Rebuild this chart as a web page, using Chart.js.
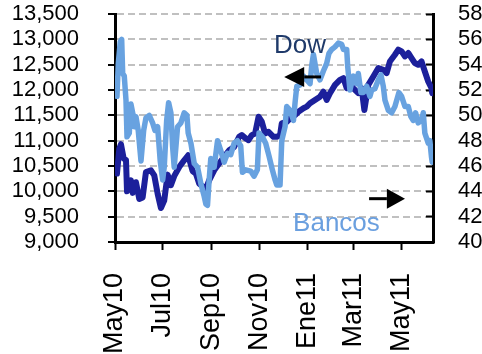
<!DOCTYPE html>
<html><head><meta charset="utf-8">
<script src="https://cdn.jsdelivr.net/npm/chart.js@4/dist/chart.umd.min.js"></script>
<style>html,body{margin:0;padding:0;background:#fff;overflow:hidden}</style>
</head><body>
<canvas id="c" width="482" height="354"></canvas>
<script>
// x axis: days since 1 May 2010
const xTickDays = [0, 61, 123, 184, 245, 304, 365];
const xTickLabels = ['May10', 'Jul10', 'Sep10', 'Nov10', 'Ene11', 'Mar11', 'May11'];

const dowDays = [2.5,5.5,7.6,11,14,15.3,20.3,22.5,26.7,30.9,35.2,39.4,45.8,50,54.3,58.5,62.7,67,71.2,75.4,81.8,88.1,93.2,98.8,103,107.2,111.5,115.7,119.9,126.3,132.6,139,145.4,151.7,158.1,161.5,166,170,174.2,178.4,182.8,187,191.1,195.5,201.8,206,210.2,212.4,218.7,225.1,229.3,233.6,240,244.2,248.4,254.7,261.1,265.4,269.6,273.8,280.2,286.5,290.9,295.1,299.2,305.6,309.9,314.1,317.6,322.6,329,335.4,341.7,345.9,350.1,356.5,360.8,365,369.2,373.5,377.7,381.9,386.2,390.4,394.6,398.9,403.1,404];
const dowValues = [10350,10845,10930,10650,10620,10000,10216,9970,10180,9850,9880,10381,10415,10315,9952,9670,9819,10330,10120,10300,10480,10613,10712,10400,10349,10151,10100,10050,10216,10415,10548,10679,10811,10877,11075,11109,11050,11010,11109,11140,11472,11373,11143,11175,11075,11075,11109,11341,11373,11472,11506,11571,11639,11671,11738,11804,11869,11968,11804,11937,12101,12200,12234,12036,12101,12002,11937,12036,11605,12101,12266,12433,12399,12333,12563,12696,12796,12762,12663,12730,12631,12532,12498,12563,12365,12167,12036,11937];

const bancosDays = [2.5,4.2,6.7,8.5,9.8,11.8,14,15.3,18.2,20.3,22.5,24.5,26.7,29.6,33.1,36.5,39.4,43.6,47.9,50.9,54.3,57.6,60.7,62.7,65.8,68.3,71.2,73.4,75.4,79.7,83.9,88.1,91.6,93.2,96.7,100.9,105.2,109.4,113.6,115.7,117.8,119.9,122,126.3,130.6,134.8,139,143.3,147.5,151.7,155.9,160.1,162.3,166.5,172.8,177.1,181.3,183.4,187.7,191.9,196.1,200.4,203.9,206,210.2,212.4,216.6,218.7,222.9,227.3,229.3,231.5,235.7,240,244.2,248.4,250.5,252.7,256.9,261.1,265.4,269.6,272.5,276,280.2,284.5,288.7,290.9,295.1,296.3,299.2,303.6,307.8,309.9,313.2,316.3,320.5,324.7,326.9,331,335.4,338.7,341.7,343.8,348.1,352.3,356.5,361.6,365,369.2,373.5,376.8,379.9,382.8,386.2,390.4,392.6,394.6,398.9,401,403.1,404];
const bancosValues = [51.5,54.1,55.8,56.0,53.3,53.1,51.2,48.3,48.6,50.9,50.2,49.1,49.9,48.8,46.4,48.8,49.8,50.0,49.4,48.8,49.1,46.4,44.9,45.9,49.6,51.0,50.2,47.5,45.9,49.1,49.4,50.2,50.0,48.6,47.8,46.2,45.9,44.6,43.6,43.0,42.9,44.9,46.6,45.9,48.0,47.2,46.3,47.0,46.9,47.8,48.0,47.6,45.5,45.7,45.6,45.2,45.7,48.6,48.3,47.8,46.8,45.7,44.9,44.5,44.5,48.0,49.1,50.7,50.4,49.6,51.0,52.3,52.4,53.1,52.8,52.5,53.9,54.8,53.3,52.8,53.5,54.1,54.9,55.2,55.4,55.7,55.6,55.2,55.2,53.9,52.0,53.1,52.5,53.3,51.8,51.8,52.3,51.5,52.0,52.1,52.8,53.2,52.3,51.2,50.4,50.2,50.7,51.8,51.5,50.7,50.7,49.9,49.6,50.2,49.4,49.6,50.2,48.6,47.8,48.0,46.7,46.3];

const FONT = '"Liberation Sans", Arial, Helvetica, sans-serif';
const DOW_COLOR = '#1c209b';
const BANCOS_COLOR = '#68a2e0';

// annotation anchors, as fractions of the plot area
const notes = [
  {text: 'Dow', fx: 0.500, fy: 0.171, color: '#1f3a6a'},
  {text: 'Bancos', fx: 0.560, fy: 0.952, color: '#6a9fdf'}
];

const annotPlugin = {
  id: 'annot',
  afterDatasetsDraw(chart) {
    const a = chart.chartArea, ctx = chart.ctx;
    const W = a.right - a.left, H = a.bottom - a.top;
    ctx.save();
    ctx.font = '26px ' + FONT;
    ctx.textBaseline = 'alphabetic';
    notes.forEach(n => { ctx.fillStyle = n.color; ctx.fillText(n.text, a.left + n.fx * W, a.top + n.fy * H); });
    ctx.fillStyle = '#000'; ctx.strokeStyle = '#000'; ctx.lineWidth = 3;
    const arrow = (tipX, y, baseX, tailX) => {
      ctx.beginPath(); ctx.moveTo(baseX, y); ctx.lineTo(tailX, y); ctx.stroke();
      ctx.beginPath(); ctx.moveTo(tipX, y); ctx.lineTo(baseX, y - 10); ctx.lineTo(baseX, y + 10); ctx.closePath(); ctx.fill();
    };
    arrow(a.left + 0.532 * W, a.top + 0.276 * H, a.left + 0.595 * W, a.left + 0.648 * W);
    arrow(a.left + 0.912 * W, a.top + 0.81 * H, a.left + 0.855 * W, a.left + 0.799 * W);
    ctx.restore();
  }
};

const noPad = s => { s.paddingTop = 0; s.paddingBottom = 0; };

new Chart(document.getElementById('c'), {
  type: 'line',
  data: {
    datasets: [
      {label: 'Bancos', yAxisID: 'y1', data: bancosDays.map((d, i) => ({x: d, y: bancosValues[i]})),
       borderColor: BANCOS_COLOR, borderWidth: 5.5, pointRadius: 0, tension: 0, borderJoinStyle: 'round', borderCapStyle: 'round'},
      {label: 'Dow', yAxisID: 'y', data: dowDays.map((d, i) => ({x: d, y: dowValues[i]})),
       borderColor: DOW_COLOR, borderWidth: 6, pointRadius: 0, tension: 0, borderJoinStyle: 'round', borderCapStyle: 'round'}
    ]
  },
  options: {
    responsive: false, animation: false, devicePixelRatio: 1,
    layout: {padding: {top: 14, left: 0, right: 0, bottom: 0}},
    plugins: {legend: {display: false}, tooltip: {enabled: false}},
    scales: {
      x: {
        type: 'linear', position: 'bottom', min: 0, max: 405,
        afterBuildTicks: s => { s.ticks = xTickDays.map(v => ({value: v})); },
        afterFit: s => { s.height = 112; s.paddingLeft = 0; s.paddingRight = 0; },
        ticks: {autoSkip: false, minRotation: 90, maxRotation: 90, padding: 23, color: '#000',
                font: {family: FONT, size: 27}, callback: (v, i) => xTickLabels[i]},
        grid: {drawOnChartArea: false, drawTicks: true, tickLength: 8, tickColor: '#000', tickWidth: 2},
        border: {display: true, color: '#000', width: 3}
      },
      y: {
        type: 'linear', position: 'left', min: 9000, max: 13500,
        afterFit: s => { s.width = 115; noPad(s); },
        ticks: {stepSize: 500, autoSkip: false, padding: 29, color: '#000', font: {family: FONT, size: 22},
                callback: v => v.toLocaleString('en-US')},
        grid: {color: c => (c.tick && c.tick.value === 9000) ? 'rgba(0,0,0,0)' : '#c0c0c0',
               lineWidth: 2, drawTicks: true, tickLength: 7, tickColor: '#000', tickWidth: 2},
        border: {display: true, color: '#000', width: 3, dash: [7, 4]}
      },
      y1: {
        type: 'linear', position: 'right', min: 40, max: 58,
        afterFit: s => { s.width = 49; noPad(s); },
        ticks: {stepSize: 2, autoSkip: false, padding: 32, color: '#000', font: {family: FONT, size: 22}},
        grid: {drawOnChartArea: false, drawTicks: true, tickLength: -7, tickColor: '#000', tickWidth: 2},
        border: {display: true, color: '#000', width: 3}
      }
    }
  },
  plugins: [annotPlugin]
});
</script>
</body></html>
